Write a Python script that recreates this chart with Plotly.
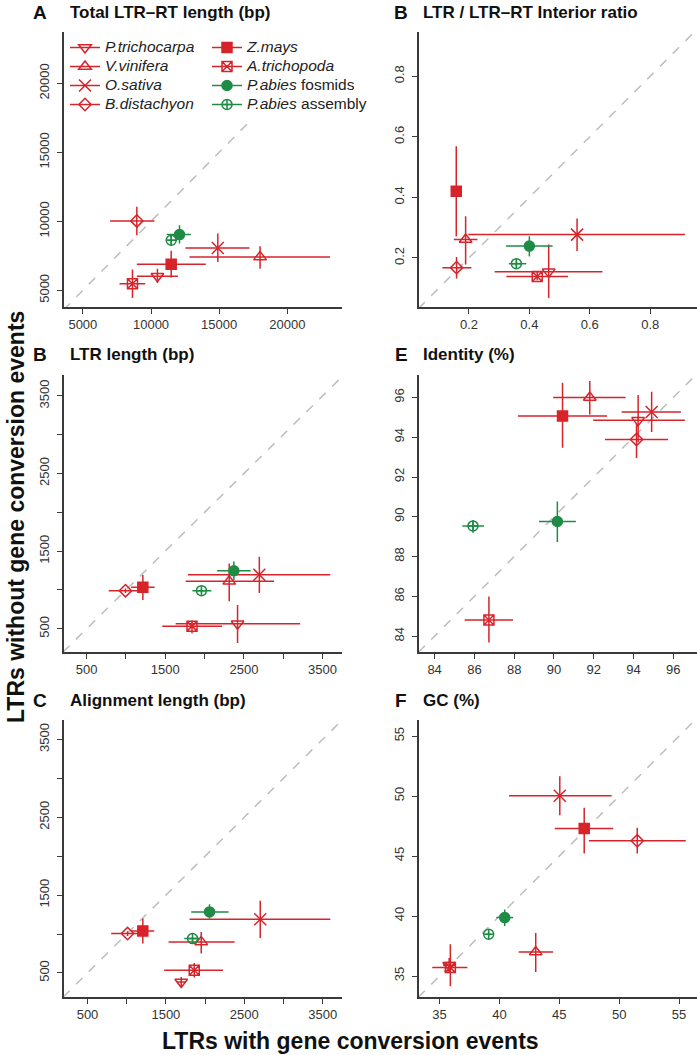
import plotly.graph_objects as go

W, H = 697, 1055

SPECIES = ["P.trichocarpa", "V.vinifera", "O.sativa", "B.distachyon",
           "Z.mays", "A.trichopoda", "P.abies fosmids", "P.abies assembly"]
LEGEND_LABELS = ["<i>P.trichocarpa</i>", "<i>V.vinifera</i>", "<i>O.sativa</i>",
                 "<i>B.distachyon</i>", "<i>Z.mays</i>", "<i>A.trichopoda</i>",
                 "<i>P.abies</i> fosmids", "<i>P.abies</i> assembly"]
RED = "#D7232A"
GREEN = "#1E8C45"
COLORS = [RED, RED, RED, RED, RED, RED, GREEN, GREEN]
SYMBOLS = ["triangle-down-open", "triangle-up-open", "x-thin-open", "diamond-open",
           "square", "square-x-open", "circle", "circle-cross-open"]
SIZES = [11, 11, 12, 9.5, 10, 10, 10, 10]

# ---- Panel A: Total LTR-RT length (bp) ----
TOTAL_X = [10470, 18000, 14900, 8960, 11480, 8640, 12090, 11480]
TOTAL_X_LO = [8960, 12820, 12530, 7000, 8960, 7690, 11160, 11160]
TOTAL_X_HI = [11970, 23130, 17220, 10250, 14020, 9570, 12920, 11890]
TOTAL_Y = [6020, 7420, 8070, 10030, 6890, 5480, 9040, 8630]
TOTAL_Y_LO = [5530, 6570, 7060, 8990, 5920, 4440, 8390, 8270]
TOTAL_Y_HI = [6570, 8190, 9110, 11050, 7860, 6500, 9720, 8990]

# ---- Panel B: LTR / LTR-RT interior ratio ----
RATIO_X = [0.464, 0.189, 0.558, 0.159, 0.158, 0.426, 0.400, 0.357]
RATIO_X_LO = [0.285, 0.150, 0.198, 0.112, 0.145, 0.324, 0.323, 0.332]
RATIO_X_HI = [0.642, 0.228, 0.915, 0.208, 0.175, 0.528, 0.477, 0.390]
RATIO_Y = [0.154, 0.261, 0.277, 0.168, 0.420, 0.139, 0.239, 0.181]
RATIO_Y_LO = [0.068, 0.178, 0.223, 0.132, 0.272, 0.126, 0.205, 0.171]
RATIO_Y_HI = [0.244, 0.338, 0.330, 0.203, 0.569, 0.154, 0.272, 0.191]

# ---- Panel B (left): LTR length (bp) ----
LTRLEN_X = [2419, 2313, 2696, 994, 1215, 1840, 2372, 1960]
LTRLEN_X_LO = [1632, 1760, 1789, 781, 1066, 1462, 2160, 1845]
LTRLEN_X_HI = [3215, 2883, 3598, 1194, 1364, 2223, 2585, 2087]
LTRLEN_Y = [564, 1111, 1197, 991, 1034, 534, 1248, 991]
LTRLEN_Y_LO = [316, 855, 962, 960, 872, 444, 1128, 960]
LTRLEN_Y_HI = [808, 1342, 1427, 1020, 1192, 607, 1368, 1020]

# ---- Panel E: Identity (%) ----
IDENT_X = [94.23, 91.80, 94.91, 94.15, 90.43, 86.73, 90.17, 85.93]
IDENT_X_LO = [91.97, 89.96, 93.40, 92.56, 88.19, 85.51, 89.25, 85.39]
IDENT_X_HI = [96.58, 93.60, 96.38, 95.74, 92.67, 87.94, 91.10, 86.48]
IDENT_Y = [94.85, 96.00, 95.27, 93.89, 95.07, 84.81, 89.76, 89.54]
IDENT_Y_LO = [93.76, 95.14, 94.26, 92.95, 93.47, 83.68, 88.73, 89.20]
IDENT_Y_HI = [96.12, 96.83, 96.29, 94.68, 96.74, 85.99, 90.77, 89.84]

# ---- Panel C: Alignment length (bp) ----
ALIGN_X = [1696, 1951, 2704, 1011, 1206, 1862, 2057, 1840]
ALIGN_X_LO = [1640, 1534, 1802, 802, 1057, 1479, 1823, 1734]
ALIGN_X_HI = [1755, 2377, 3598, 1194, 1351, 2228, 2300, 1938]
ALIGN_Y = [384, 899, 1190, 1006, 1040, 534, 1284, 941]
ALIGN_Y_LO = [320, 749, 950, 975, 877, 440, 1199, 915]
ALIGN_Y_HI = [449, 1027, 1426, 1035, 1199, 629, 1383, 965]

# ---- Panel F: GC (%) ----
GC_X = [35.80, 43.03, 45.04, 51.51, 47.08, 35.90, 40.44, 39.10]
GC_X_LO = [35.30, 41.61, 40.80, 47.47, 44.62, 34.39, 39.74, 38.90]
GC_X_HI = [36.30, 44.48, 49.37, 55.56, 49.50, 37.32, 41.14, 39.30]
GC_Y = [35.90, 37.00, 50.02, 46.27, 47.29, 35.70, 39.87, 38.48]
GC_Y_LO = [35.30, 35.33, 48.41, 45.21, 45.21, 34.14, 39.17, 38.30]
GC_Y_HI = [36.50, 38.59, 51.66, 47.35, 49.02, 37.64, 40.54, 38.65]

# tick values / labels
TICKS_TOTAL = [5000, 10000, 15000, 20000]
TICKS_RATIO = [0.2, 0.4, 0.6, 0.8]
TICKS_LEN = [500, 1000, 1500, 2000, 2500, 3000, 3500]
TICKTEXT_LEN = ["500", "", "1500", "", "2500", "", "3500"]
TICKS_IDENT = [84, 86, 88, 90, 92, 94, 96]
TICKS_GC = [35, 40, 45, 50, 55]

PANEL_LETTERS = ["A", "B", "B", "E", "C", "F"]
PANEL_TITLES = ["Total LTR\u2013RT length (bp)", "LTR / LTR\u2013RT Interior ratio",
                "LTR length (bp)", "Identity (%)", "Alignment length (bp)", "GC (%)"]

panels = [
    dict(x=TOTAL_X, xlo=TOTAL_X_LO, xhi=TOTAL_X_HI, y=TOTAL_Y, ylo=TOTAL_Y_LO, yhi=TOTAL_Y_HI,
         xr=[3580, 24010], yr=[3790, 23720], tv=TICKS_TOTAL, tt=[str(v) for v in TICKS_TOTAL]),
    dict(x=RATIO_X, xlo=RATIO_X_LO, xhi=RATIO_X_HI, y=RATIO_Y, ylo=RATIO_Y_LO, yhi=RATIO_Y_HI,
         xr=[0.033, 0.955], yr=[0.038, 0.946], tv=TICKS_RATIO, tt=[str(v) for v in TICKS_RATIO]),
    dict(x=LTRLEN_X, xlo=LTRLEN_X_LO, xhi=LTRLEN_X_HI, y=LTRLEN_Y, ylo=LTRLEN_Y_LO, yhi=LTRLEN_Y_HI,
         xr=[206, 3747], yr=[201, 3769], tv=TICKS_LEN, tt=TICKTEXT_LEN),
    dict(x=IDENT_X, xlo=IDENT_X_LO, xhi=IDENT_X_HI, y=IDENT_Y, ylo=IDENT_Y_LO, yhi=IDENT_Y_HI,
         xr=[83.19, 97.19], yr=[83.2, 97.13], tv=TICKS_IDENT, tt=[str(v) for v in TICKS_IDENT]),
    dict(x=ALIGN_X, xlo=ALIGN_X_LO, xhi=ALIGN_X_HI, y=ALIGN_Y, ylo=ALIGN_Y_LO, yhi=ALIGN_Y_HI,
         xr=[194, 3747], yr=[191, 3749], tv=TICKS_LEN, tt=TICKTEXT_LEN),
    dict(x=GC_X, xlo=GC_X_LO, xhi=GC_X_HI, y=GC_Y, ylo=GC_Y_LO, yhi=GC_Y_HI,
         xr=[33.24, 56.5], yr=[33.25, 56.34], tv=TICKS_GC, tt=[str(v) for v in TICKS_GC]),
]

COL_PX = [(63.5, 342.0), (418.5, 697.0)]
ROW_PX = [(32.0, 307.0), (375.0, 652.0), (720.0, 997.0)]
TITLE_Y_PX = [12, 354, 700]
LETTER_X_PX = [40, 401]
TITLE_X_PX = [68, 421]

FONT = "Liberation Sans, Arial, Helvetica, sans-serif"
AXCOL = "#3a3a3a"

fig = go.Figure()
layout_axes = {}
annotations = []

for i, p in enumerate(panels):
    k = i + 1
    col, row = i % 2, i // 2
    xa = "x" if k == 1 else f"x{k}"
    ya = "y" if k == 1 else f"y{k}"
    x0, x1 = COL_PX[col]
    y0, y1 = ROW_PX[row]
    common = dict(showline=True, linecolor=AXCOL, linewidth=1.5, mirror=False,
                  ticks="outside", ticklen=5, tickwidth=1.2, tickcolor=AXCOL,
                  showgrid=False, zeroline=False, tickmode="array",
                  tickvals=p["tv"], ticktext=p["tt"],
                  tickfont=dict(family=FONT, size=13, color="#333333"),
                  fixedrange=True)
    layout_axes["xaxis" if k == 1 else f"xaxis{k}"] = dict(
        domain=[x0 / W, x1 / W], range=p["xr"], anchor=ya, ticklabelstandoff=0, **common)
    layout_axes["yaxis" if k == 1 else f"yaxis{k}"] = dict(
        domain=[1 - y1 / H, 1 - y0 / H], range=p["yr"], anchor=xa, tickangle=-90,
        ticklabelstandoff=3, **common)

    lo = min(p["xr"][0], p["yr"][0])
    hi = max(p["xr"][1], p["yr"][1])
    fig.add_trace(go.Scatter(x=[lo, hi], y=[lo, hi], mode="lines",
                             line=dict(color="#BDBDBD", width=1.5, dash="dash"),
                             xaxis=xa, yaxis=ya, showlegend=False, hoverinfo="skip"))
    for s in range(len(SPECIES)):
        c = COLORS[s]
        fig.add_trace(go.Scatter(
            x=[p["x"][s]], y=[p["y"][s]], mode="markers", name=SPECIES[s],
            marker=dict(symbol=SYMBOLS[s], size=SIZES[s], color=c,
                        line=dict(color=c, width=1.5)),
            error_x=dict(type="data", symmetric=False,
                         array=[p["xhi"][s] - p["x"][s]], arrayminus=[p["x"][s] - p["xlo"][s]],
                         color=c, thickness=1.5, width=0),
            error_y=dict(type="data", symmetric=False,
                         array=[p["yhi"][s] - p["y"][s]], arrayminus=[p["y"][s] - p["ylo"][s]],
                         color=c, thickness=1.5, width=0),
            xaxis=xa, yaxis=ya, showlegend=False))

    annotations.append(dict(text="<b>" + PANEL_LETTERS[i] + "</b>", xref="paper", yref="paper",
                            x=LETTER_X_PX[col] / W, y=1 - TITLE_Y_PX[row] / H,
                            xanchor="center", yanchor="middle", showarrow=False,
                            font=dict(family=FONT, size=19, color="#111111")))
    annotations.append(dict(text="<b>" + PANEL_TITLES[i] + "</b>", xref="paper", yref="paper",
                            x=TITLE_X_PX[col] / W, y=1 - TITLE_Y_PX[row] / H,
                            xanchor="left", yanchor="middle", showarrow=False,
                            font=dict(family=FONT, size=17, color="#111111")))

# legend entries (two columns, drawn by the library's legend)
for s in range(len(SPECIES)):
    c = COLORS[s]
    fig.add_trace(go.Scatter(
        x=[None], y=[None], mode="lines+markers",
        name="<span style='font-size:15.5px'>" + LEGEND_LABELS[s] + "</span>",
        marker=dict(symbol=SYMBOLS[s], size=SIZES[s], color=c, line=dict(color=c, width=1.5)),
        line=dict(color=c, width=1.5), xaxis="x", yaxis="y",
        legend="legend" if s < 4 else "legend2", showlegend=True))

annotations.append(dict(text="<b>LTRs with gene conversion events</b>", xref="paper", yref="paper",
                        x=350 / W, y=1 - 1041 / H, xanchor="center", yanchor="middle",
                        showarrow=False, font=dict(family=FONT, size=23, color="#111111")))
annotations.append(dict(text="<b>LTRs without gene conversion events</b>", xref="paper", yref="paper",
                        x=16 / W, y=1 - 517 / H, xanchor="center", yanchor="middle", textangle=-90,
                        showarrow=False, font=dict(family=FONT, size=23, color="#111111")))

legend_common = dict(bgcolor="white", borderwidth=0, yanchor="top", xanchor="left",
                     font=dict(family=FONT, size=12, color="#222222"),
                     itemclick=False, itemdoubleclick=False, tracegroupgap=0)

fig.update_layout(
    width=W, height=H, margin=dict(l=0, r=0, t=0, b=0),
    paper_bgcolor="white", plot_bgcolor="white",
    annotations=annotations,
    legend=dict(x=65 / W, y=1 - 33 / H, **legend_common),
    legend2=dict(x=207 / W, y=1 - 33 / H, **legend_common),
    **layout_axes,
)

fig.write_html("out.html", config={"displayModeBar": False},
               post_script="document.body.style.margin='0';document.body.style.overflow='hidden';")
